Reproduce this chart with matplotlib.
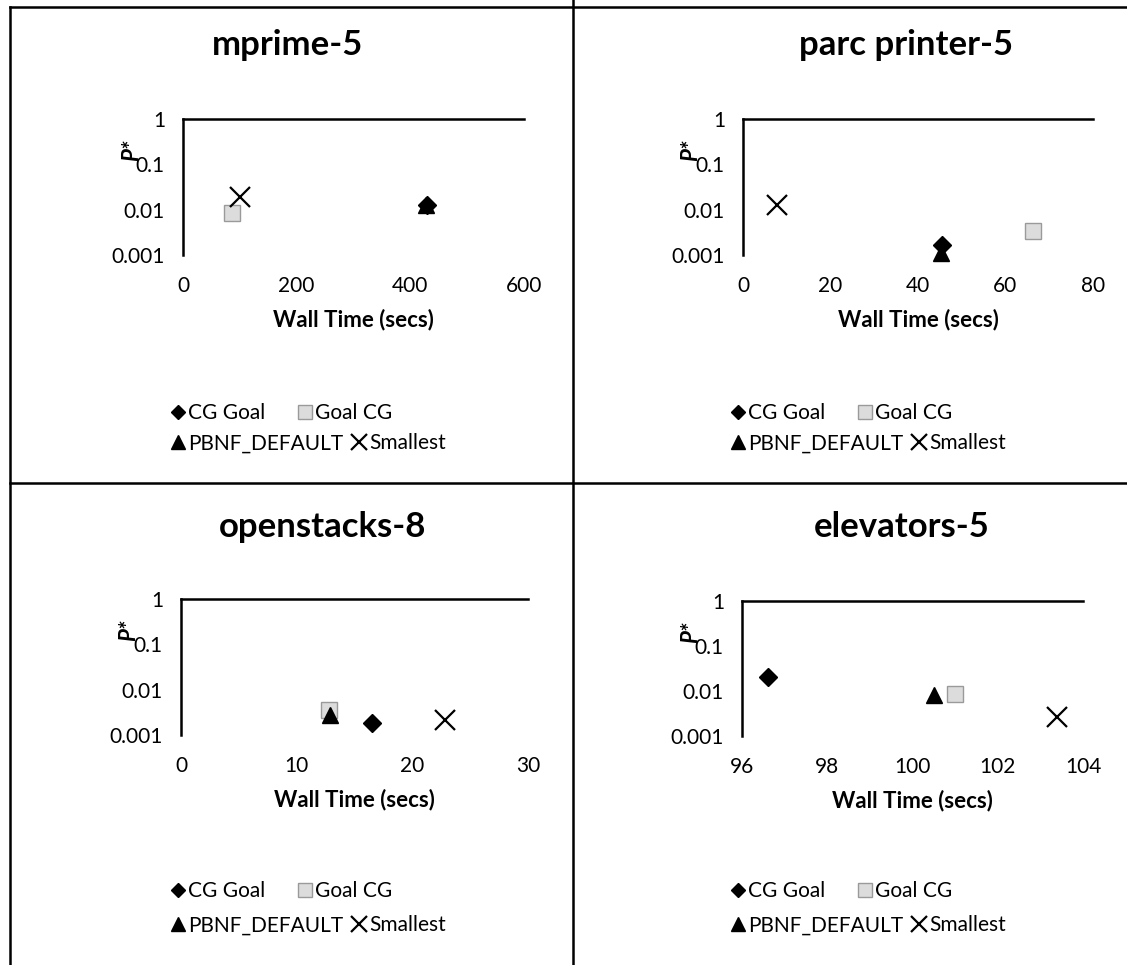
import matplotlib
matplotlib.use('Agg')
from matplotlib import pyplot as plt
from matplotlib.lines import Line2D

plt.rcParams['font.family'] = ['Lato', 'DejaVu Sans']

W, H = 1127, 965

# data
titles = ['mprime-5', 'parc printer-5', 'openstacks-8', 'elevators-5']
xlims = [(0, 600), (0, 80), (0, 30), (96, 104)]
xticks = [[0, 200, 400, 600], [0, 20, 40, 60, 80], [0, 10, 20, 30], [96, 98, 100, 102, 104]]
yticks = [0.001, 0.01, 0.1, 1]
ytick_labels = ['0.001', '0.01', '0.1', '1']

cg_goal_t = [430, 45.5, 16.5, 96.6]
cg_goal_p = [0.013, 0.0017, 0.0018, 0.020]
goal_cg_t = [86, 66.3, 12.8, 101.0]
goal_cg_p = [0.0085, 0.0034, 0.0035, 0.0085]
pbnf_t = [428, 45.3, 12.9, 100.5]
pbnf_p = [0.0126, 0.0011, 0.0027, 0.0081]
small_t = [100, 7.7, 22.8, 103.4]
small_p = [0.019, 0.013, 0.0021, 0.0026]

# axes boxes in pixels: left, right, top, bottom
boxes = [(183, 524, 119, 255), (743, 1093, 119, 255),
         (181, 528, 599, 735), (742, 1083, 601, 736)]
title_xy = [(288, 45), (906, 45), (323, 527), (902, 527)]
legend_x = [160, 720, 160, 720]
legend_y = [[395, 425], [395, 425], [873, 907], [873, 907]]

fig = plt.figure(figsize=(W / 100, H / 100), dpi=100)

def fx(x):
    return x / W

def fy(y):
    return 1 - y / H

for i in range(4):
    l, r, t, b = boxes[i]
    ax = fig.add_axes([fx(l), fy(b), fx(r - l), (b - t) / H])
    ax.set_yscale('log')
    ax.set_ylim(0.001, 1)
    ax.set_xlim(*xlims[i])
    ax.set_xticks(xticks[i])
    ax.set_yticks(yticks)
    ax.set_yticklabels(ytick_labels)
    ax.minorticks_off()
    ax.tick_params(length=0, labelsize=15)
    ax.tick_params(axis='x', pad=15)
    ax.tick_params(axis='y', pad=13)
    for s in ['bottom', 'right']:
        ax.spines[s].set_visible(False)
    for s in ['top', 'left']:
        ax.spines[s].set_linewidth(1.8)
    ax.set_facecolor('none')

    d1, = ax.plot(cg_goal_t[i], cg_goal_p[i], 'D', color='black', ms=9, label='CG Goal', clip_on=False)
    d2, = ax.plot(goal_cg_t[i], goal_cg_p[i], 's', mfc='#dcdcdc', mec='#9a9a9a', ms=12, label='Goal CG', clip_on=False)
    d3, = ax.plot(pbnf_t[i], pbnf_p[i], '^', color='black', ms=12, label='PBNF_DEFAULT', clip_on=False)
    d4, = ax.plot(small_t[i], small_p[i], 'x', color='black', ms=14, mew=1.6, label='Smallest', clip_on=False)

    ax.set_xlabel('Wall Time (secs)', fontsize=16, fontweight='bold', labelpad=9)
    ax.set_ylabel('P*', fontsize=16, fontweight='bold', style='italic', rotation=90)
    ax.yaxis.set_label_coords(-0.12, 0.77)

    tx, ty = title_xy[i]
    fig.text(fx(tx), fy(ty), titles[i], ha='center', va='center',
             fontsize=25, fontweight='bold')

    lx = legend_x[i]
    rows = [([d1, d2], ['CG Goal', 'Goal CG'], 1.45), ([d3, d4], ['PBNF_DEFAULT', 'Smallest'], 0.3)]
    for k, (hs, labs, cs) in enumerate(rows):
        fig.legend(hs, labs, ncol=2, loc='upper left',
                   bbox_to_anchor=(fx(lx), fy(legend_y[i][k])), frameon=False,
                   fontsize=15, handletextpad=0.05, columnspacing=cs, handlelength=0.9,
                   borderaxespad=0, markerscale=0.8)

# panel borders
lw = 1.8
fig.add_artist(Line2D([fx(573), fx(573)], [0, fy(0)], color='black', lw=lw))
fig.add_artist(Line2D([fx(10), 1], [fy(483), fy(483)], color='black', lw=lw))
fig.add_artist(Line2D([fx(10), fx(10)], [0, fy(7)], color='black', lw=lw))
fig.add_artist(Line2D([fx(10), 1], [fy(7), fy(7)], color='black', lw=lw))

fig.savefig('out.png', dpi=100)
